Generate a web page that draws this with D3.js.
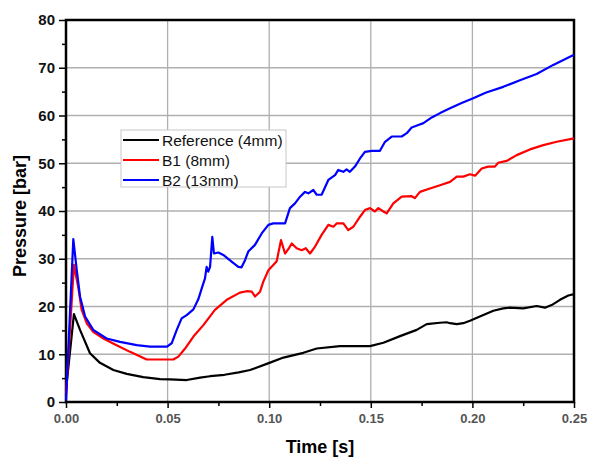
<!DOCTYPE html>
<html>
<head>
<meta charset="utf-8">
<script src="https://d3js.org/d3.v7.min.js"></script>
<style>
	body { margin: 0; background: #fff; }
	svg { display: block; font-family: 'Liberation Sans', Arial, sans-serif; }
</style>
</head>
<body>
<svg id="chart"></svg>
<script>
// ========== DATA ==========
// [time (s), pressure (bar)]
var refData = [
	[0, 2.5], [0.0039, 18.4], [0.0069, 15.1], [0.0118, 10.2], [0.0167, 8.2], [0.0233, 6.7],
	[0.0299, 5.9], [0.038, 5.2], [0.0463, 4.8], [0.0512, 4.75], [0.0594, 4.6], [0.066, 5.1],
	[0.0709, 5.4], [0.078, 5.7], [0.085, 6.2], [0.0906, 6.7], [0.1001, 8.2], [0.107, 9.3],
	[0.1168, 10.3], [0.1234, 11.2], [0.1348, 11.7], [0.1496, 11.7], [0.1562, 12.4], [0.1644, 13.8],
	[0.1726, 15.1], [0.1775, 16.3], [0.184, 16.6], [0.1873, 16.7], [0.189, 16.5], [0.1923, 16.3],
	[0.1955, 16.5], [0.1988, 17.0], [0.2054, 18.2], [0.2103, 19.1], [0.2152, 19.6], [0.2185, 19.75],
	[0.225, 19.6], [0.2316, 20.1], [0.2357, 19.75], [0.239, 20.3], [0.2431, 21.4], [0.2472, 22.3],
	[0.25, 22.6]
];
var b1Data = [
	[0, 1.5], [0.0039, 28.7], [0.006, 24.1], [0.0077, 19.3], [0.0102, 16.5], [0.0134, 14.7],
	[0.0184, 13.3], [0.0249, 11.9], [0.0315, 10.5], [0.0397, 8.9], [0.0463, 8.9], [0.0528, 8.9],
	[0.0553, 9.5], [0.0586, 11.2], [0.0627, 13.7], [0.0676, 16.1], [0.0733, 19.3], [0.0791, 21.4],
	[0.0856, 22.9], [0.0889, 23.2], [0.0914, 23.1], [0.093, 22.1], [0.0955, 23.1], [0.0971, 25.2],
	[0.0996, 27.6], [0.102, 28.7], [0.1037, 29.5], [0.1058, 33.9], [0.1078, 31.1], [0.1094, 32.0],
	[0.1111, 33.2], [0.1135, 32.2], [0.116, 31.8], [0.118, 32.2], [0.1201, 31.1], [0.1225, 32.5],
	[0.1258, 35.0], [0.1291, 37.1], [0.1316, 36.7], [0.1332, 37.4], [0.1365, 37.4], [0.1389, 36.0],
	[0.1414, 36.7], [0.1447, 38.8], [0.1471, 40.2], [0.1496, 40.6], [0.152, 39.9], [0.1537, 40.6],
	[0.1562, 39.9], [0.1578, 39.5], [0.1611, 41.6], [0.1652, 43.0], [0.1701, 43.1], [0.1717, 42.7],
	[0.1742, 44.0], [0.1791, 44.7], [0.1841, 45.4], [0.189, 46.1], [0.1923, 47.2], [0.1955, 47.2],
	[0.1988, 47.7], [0.2013, 47.4], [0.2046, 48.9], [0.2078, 49.3], [0.2111, 49.3], [0.2127, 50.1],
	[0.2169, 50.5], [0.2218, 51.7], [0.2283, 52.9], [0.2349, 53.8], [0.2415, 54.5], [0.25, 55.2]
];
var b2Data = [
	[0, 0.3], [0.0036, 34.1], [0.0053, 27.6], [0.0069, 22.1], [0.0094, 17.9], [0.0134, 15.1],
	[0.02, 13.3], [0.0266, 12.6], [0.0348, 11.9], [0.0413, 11.6], [0.0497, 11.6], [0.052, 12.3],
	[0.0545, 15.1], [0.0569, 17.5], [0.0594, 18.2], [0.0627, 19.4], [0.0651, 21.5], [0.0668, 23.8],
	[0.0684, 25.9], [0.0692, 28.3], [0.07, 27.3], [0.0709, 28.3], [0.072, 34.6], [0.0728, 31.1],
	[0.075, 31.3], [0.0774, 30.8], [0.0815, 29.4], [0.0848, 28.3], [0.0864, 28.2], [0.0881, 29.7],
	[0.0897, 31.5], [0.093, 32.9], [0.0963, 35.3], [0.0996, 37.1], [0.102, 37.4], [0.1078, 37.4],
	[0.1102, 40.6], [0.1127, 41.6], [0.1152, 43.0], [0.1176, 44.0], [0.1193, 43.7], [0.1217, 44.4],
	[0.1234, 43.4], [0.1258, 43.4], [0.1291, 46.5], [0.1324, 47.5], [0.134, 48.6], [0.1365, 48.2],
	[0.1381, 48.7], [0.1397, 48.2], [0.1422, 49.3], [0.1447, 51.0], [0.1471, 52.4], [0.1504, 52.6],
	[0.1545, 52.6], [0.157, 54.5], [0.1603, 55.6], [0.1652, 55.6], [0.1677, 56.3], [0.1701, 57.5],
	[0.1734, 58.0], [0.1759, 58.4], [0.18, 59.6], [0.1841, 60.5], [0.189, 61.5], [0.1947, 62.6],
	[0.2004, 63.6], [0.2068, 64.8], [0.2152, 66.0], [0.2234, 67.4], [0.2316, 68.7], [0.2398, 70.6],
	[0.25, 72.7]
];

var seriesNames = ['Reference (4mm)', 'B1 (8mm)', 'B2 (13mm)'];
var seriesColors = ['#000000', '#ff0000', '#0000ff'];
var xTicks = [0, 0.05, 0.10, 0.15, 0.20, 0.25];
var yTicks = [0, 10, 20, 30, 40, 50, 60, 70, 80];

makeChart();

function makeChart() {
	// ========== LAYOUT ==========
	var width = 589;
	var height = 459;
	var left = 66, right = 574, top = 20, bottom = 402;

	var x = d3.scaleLinear().domain([0, 0.25]).range([left, right]);
	var y = d3.scaleLinear().domain([0, 80]).range([bottom, top]);

	var svg = d3.select('svg#chart')
		.attr('width', width)
		.attr('height', height);

	// grid
	svg.append('g')
		.selectAll('line.vgrid')
		.data(xTicks.slice(1, -1))
		.enter().append('line')
		.attr('x1', function(d) { return x(d); })
		.attr('x2', function(d) { return x(d); })
		.attr('y1', top).attr('y2', bottom)
		.attr('stroke', '#b0b0b0')
		.attr('stroke-width', 1.3);
	svg.append('g')
		.selectAll('line.hgrid')
		.data(yTicks.slice(1, -1))
		.enter().append('line')
		.attr('y1', function(d) { return y(d); })
		.attr('y2', function(d) { return y(d); })
		.attr('x1', left).attr('x2', right)
		.attr('stroke', '#b0b0b0')
		.attr('stroke-width', 1.3);

	// ========== AXES ==========
	var yAxis = svg.append('g')
		.attr('transform', 'translate(' + left + ',0)')
		.call(d3.axisLeft(y).tickValues(yTicks).tickSize(7).tickPadding(4).tickFormat(d3.format('d')));
	yAxis.selectAll('text')
		.style('font-size', '15px')
		.style('font-weight', 'bold')
		.attr('fill', '#111');

	svg.append('g')
		.attr('transform', 'translate(' + left + ',0)')
		.call(d3.axisLeft(y).tickValues(d3.range(5, 80, 10)).tickSize(4).tickFormat(''));

	var xAxis = svg.append('g')
		.attr('transform', 'translate(0,' + bottom + ')')
		.call(d3.axisBottom(x).tickValues(xTicks).tickSize(6).tickPadding(6).tickFormat(d3.format('.2f')));
	xAxis.selectAll('text')
		.style('font-size', '13px')
		.style('font-weight', 'bold')
		.attr('fill', '#555');

	svg.append('g')
		.attr('transform', 'translate(0,' + bottom + ')')
		.call(d3.axisBottom(x).tickValues(d3.range(0.025, 0.25, 0.05)).tickSize(4).tickFormat(''));

	svg.selectAll('.domain').remove();
	svg.selectAll('.tick line').attr('stroke-width', 1.5);

	// frame
	svg.append('rect')
		.attr('x', left).attr('y', top)
		.attr('width', right - left).attr('height', bottom - top)
		.attr('fill', 'none')
		.attr('stroke', '#000')
		.attr('stroke-width', 2.5);

	// titles
	svg.append('text')
		.attr('transform', 'translate(26,' + ((top + bottom) / 2 + 5) + ')rotate(-90)')
		.attr('text-anchor', 'middle')
		.style('font-size', '18px')
		.style('font-weight', 'bold')
		.text('Pressure [bar]');
	svg.append('text')
		.attr('x', (left + right) / 2)
		.attr('y', 453)
		.attr('text-anchor', 'middle')
		.style('font-size', '18px')
		.style('font-weight', 'bold')
		.text('Time [s]');

	// ========== LINES ==========
	var line = d3.line()
		.x(function(d) { return x(d[0]); })
		.y(function(d) { return y(d[1]); });

	var allSeries = [refData, b1Data, b2Data];
	svg.append('g')
		.selectAll('path.series')
		.data(allSeries)
		.enter().append('path')
		.attr('class', 'series')
		.attr('d', line)
		.attr('fill', 'none')
		.attr('stroke', function(d, i) { return seriesColors[i]; })
		.attr('stroke-width', 2.2)
		.attr('stroke-linejoin', 'round');

	// ========== LEGEND ==========
	var legend = svg.append('g')
		.attr('transform', 'translate(121,130)');
	legend.append('rect')
		.attr('width', 165)
		.attr('height', 57)
		.attr('fill', '#fff')
		.attr('stroke', '#c8c8c8')
		.attr('stroke-width', 1);

	var rows = legend.selectAll('g.row')
		.data(seriesNames)
		.enter().append('g')
		.attr('transform', function(d, i) { return 'translate(0,' + (10 + i * 20) + ')'; });
	rows.append('line')
		.attr('x1', 2).attr('x2', 38)
		.attr('stroke', function(d, i) { return seriesColors[i]; })
		.attr('stroke-width', 2);
	rows.append('text')
		.attr('x', 41)
		.attr('y', 5.5)
		.style('font-size', '15.5px')
		.attr('fill', '#111')
		.text(function(d) { return d; });
}
</script>
</body>
</html>
